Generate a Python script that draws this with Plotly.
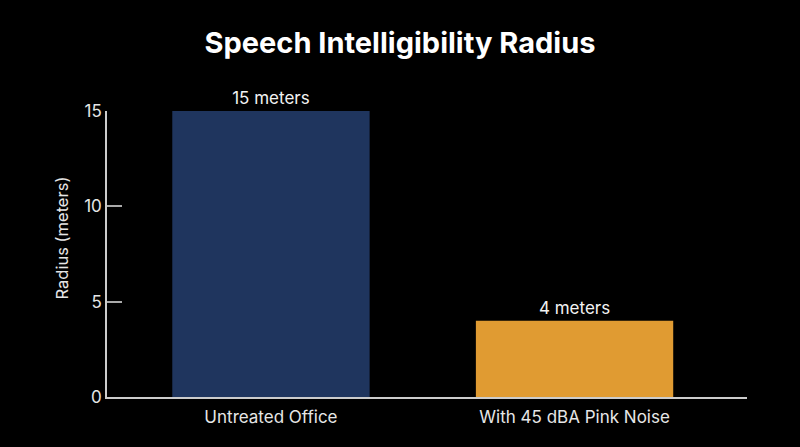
import plotly.graph_objects as go

# ─── Data ─────────────────────────────────────────────────────────────────────
categories  = ["Untreated Office", "With 45 dBA Pink Noise"]
radius_m    = [15, 4]
bar_labels  = ["15 meters", "4 meters"]
bar_colors  = ["#1f355e", "#e09b32"]

FONT = "Inter"
TEXT = "#e6e6e6"

# ─── Figure ───────────────────────────────────────────────────────────────────
fig = go.Figure()

fig.add_trace(go.Bar(
    x=categories,
    y=radius_m,
    text=bar_labels,
    textposition="outside",
    textfont=dict(family=FONT, size=17, color="#f2f2f2"),
    cliponaxis=False,
    marker=dict(color=bar_colors, line=dict(width=0)),
    width=0.65,
))

fig.update_layout(
    title=dict(
        text="<b>Speech Intelligibility Radius</b>",
        x=0.5, xanchor="center",
        y=0.905, yanchor="middle",
        font=dict(family=FONT, size=29, color="#ffffff"),
    ),
    paper_bgcolor="#000000",
    plot_bgcolor="#000000",
    width=800, height=447,
    margin=dict(l=107, r=53, t=111, b=50),
    showlegend=False,
    font=dict(family=FONT, color=TEXT),
)

# y title sits a bit above the axis middle in the reference, so place by hand
fig.add_annotation(
    text="Radius (meters)", textangle=-90,
    xref="paper", yref="paper", x=-0.07, y=0.555,
    xanchor="center", yanchor="middle",
    showarrow=False, font=dict(family=FONT, size=16.5, color=TEXT),
)

fig.update_xaxes(
    range=[-0.54, 1.568],
    showline=True, linecolor="#cccccc", linewidth=1.5,
    showgrid=False, zeroline=False,
    ticks="", ticklabelstandoff=4,
    tickfont=dict(family=FONT, size=17, color=TEXT),
)

fig.update_yaxes(
    range=[0, 15],
    tickvals=[0, 5, 10, 15],
    showline=True, linecolor="#cccccc", linewidth=1.5,
    showgrid=False, zeroline=False,
    ticks="inside", ticklen=15, tickcolor="#aaaaaa", tickwidth=1.5,
    tickfont=dict(family=FONT, size=17, color=TEXT),
)

# page has a default body margin; drop it so the figure fills the window
fig.write_html(
    "out.html",
    config={"displayModeBar": False},
    post_script="document.body.style.margin='0';document.body.style.background='#000';",
)
